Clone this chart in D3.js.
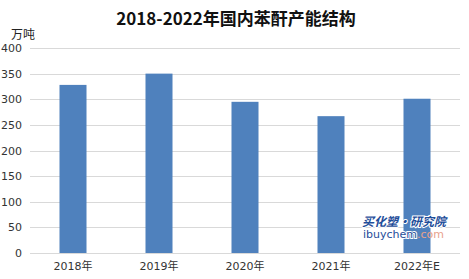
<!DOCTYPE html>
<html>
<head>
<meta charset="utf-8">
<script src="https://cdn.jsdelivr.net/npm/d3@7"></script>
<style>
  body { margin: 0; background: #fff; }
  svg { display: block; }
</style>
</head>
<body>
<div id="chart"></div>
<script>
var years = ['2018年', '2019年', '2020年', '2021年', '2022年E'];
var capacity = [328, 350, 295, 267, 301];
var yTicks = [0, 50, 100, 150, 200, 250, 300, 350, 400];

var width = 469, height = 279;
var margin = {top: 48, right: 9, bottom: 26, left: 30};

var svg = d3.select('#chart').append('svg')
    .attr('width', width)
    .attr('height', height)
    .style('font-family', '"Microsoft YaHei", "Noto Sans CJK SC", sans-serif');

var x = d3.scaleBand()
    .domain(years)
    .range([margin.left, width - margin.right])
    .paddingInner(0.686)
    .paddingOuter(0.343);

var y = d3.scaleLinear()
    .domain([0, 400])
    .range([height - margin.bottom, margin.top]);

// gridlines
svg.append('g')
    .selectAll('line')
    .data(yTicks)
    .enter().append('line')
    .attr('x1', margin.left)
    .attr('x2', width - margin.right)
    .attr('y1', function(d) { return Math.round(y(d)) + 0.5; })
    .attr('y2', function(d) { return Math.round(y(d)) + 0.5; })
    .attr('stroke', '#d9d9d9')
    .attr('stroke-width', 1);

// y axis labels
var yAxis = d3.axisLeft(y).tickValues(yTicks).tickSize(0).tickPadding(8);
svg.append('g')
    .attr('transform', 'translate(' + margin.left + ',0)')
    .call(yAxis)
    .call(function(g) { g.select('.domain').remove(); })
    .selectAll('text')
    .style('font-size', '11px')
    .style('font-family', '"DejaVu Sans", sans-serif')
    .attr('fill', '#333');

// bars
svg.append('g')
    .selectAll('rect')
    .data(capacity)
    .enter().append('rect')
    .attr('x', function(d, i) { return x(years[i]); })
    .attr('y', function(d) { return y(d); })
    .attr('width', x.bandwidth())
    .attr('height', function(d) { return y(0) - y(d); })
    .attr('fill', '#4f81bd');

// x axis labels
var xAxis = d3.axisBottom(x).tickSize(0).tickPadding(9);
svg.append('g')
    .attr('transform', 'translate(0,' + y(0) + ')')
    .call(xAxis)
    .call(function(g) { g.select('.domain').remove(); })
    .selectAll('text')
    .style('font-size', '11px')
    .style('font-family', '"DejaVu Sans", "Noto Sans CJK SC", sans-serif')
    .attr('fill', '#333');

// title
svg.append('text')
    .attr('x', 236)
    .attr('y', 25)
    .attr('text-anchor', 'middle')
    .style('font-size', '17px')
    .style('font-weight', 'bold')
    .style('font-family', '"Noto Sans CJK SC", sans-serif')
    .attr('fill', '#111')
    .text('2018-2022年国内苯酐产能结构');

// unit
svg.append('text')
    .attr('x', 11)
    .attr('y', 39)
    .style('font-size', '12px')
    .style('font-family', '"Noto Sans CJK SC", sans-serif')
    .attr('fill', '#222')
    .text('万吨');

// watermark
var wm = svg.append('g').attr('transform', 'translate(362,226)');
wm.append('text')
    .attr('x', 0)
    .attr('y', 0)
    .style('font-size', '12px')
    .style('font-weight', 'bold')
    .style('font-style', 'italic')
    .style('font-family', '"Noto Sans CJK SC", sans-serif')
    .attr('fill', '#1f4e9a')
    .attr('stroke', '#fff')
    .attr('stroke-width', 2)
    .attr('paint-order', 'stroke')
    .text('买化塑·研究院');
var wm2 = wm.append('text')
    .attr('x', 1)
    .attr('y', 12)
    .style('font-size', '11px')
    .style('font-family', '"DejaVu Sans", sans-serif')
    .attr('stroke', '#fff')
    .attr('stroke-width', 2)
    .attr('paint-order', 'stroke');
wm2.append('tspan').attr('fill', '#1f4e9a').text('ibuychem');
wm2.append('tspan').attr('fill', '#e9a28c').attr('stroke', 'none').text('.com');
</script>
</body>
</html>
